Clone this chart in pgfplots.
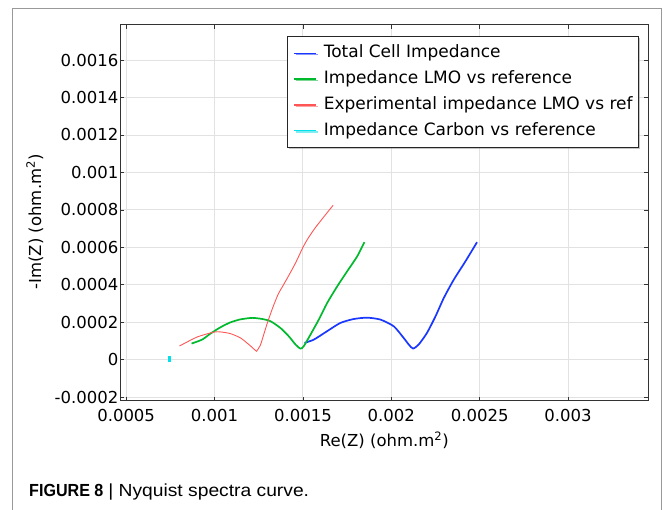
\documentclass[border=0pt]{standalone}
\usepackage{pgfplots}
\pgfplotsset{compat=1.18}
\usepackage{fontspec}
\setmainfont{DejaVu Sans}
\newfontfamily\capfont{Liberation Sans}
\usetikzlibrary{shadows}

\definecolor{cblue}{RGB}{25,55,255}
\definecolor{cgreen}{RGB}{0,185,45}
\definecolor{cred}{RGB}{255,85,85}
\definecolor{ccyan}{RGB}{0,225,235}
\definecolor{gridc}{RGB}{226,226,226}

\begin{document}
\begin{tikzpicture}
\path[use as bounding box] (0,0) rectangle (663bp,510bp);
\draw[black!40, line width=1.2bp] (12.7bp,0) -- (12.7bp,501.7bp) -- (661.7bp,501.7bp) -- (661.7bp,0);
\begin{axis}[
  at={(120.3bp,109.3bp)}, anchor=south west,
  scale only axis, width=528bp, height=375.7bp,
  xmin=0.000467, xmax=0.003454, ymin=-0.000218, ymax=0.001787,
  xtick={0.0005,0.001,0.0015,0.002,0.0025,0.003},
  xticklabels={0.0005,0.001,0.0015,0.002,0.0025,0.003},
  ytick={-0.0002,0,0.0002,0.0004,0.0006,0.0008,0.001,0.0012,0.0014,0.0016},
  yticklabels={-0.0002,0,0.0002,0.0004,0.0006,0.0008,0.001,0.0012,0.0014,0.0016},
  scaled ticks=false,
  grid=major, major grid style={gridc, line width=0.9bp},
  axis line style={black!80, line width=1bp},
  tick style={black!80, line width=0.8bp},
  tick align=inside, major tick length=4bp,
  ticklabel style={font=\fontsize{16.5bp}{19bp}\selectfont},
  xticklabel style={yshift=-5bp},
  yticklabel style={xshift=1.5bp},
  xlabel={Re(Z) (ohm.m\textsuperscript{2})},
  ylabel={-Im(Z) (ohm.m\textsuperscript{2})},
  label style={font=\fontsize{16.5bp}{19bp}\selectfont},
  xlabel style={at={(axis description cs:0.5,-0.1046)}, anchor=center},
  ylabel style={at={(axis description cs:-0.162,0.476)}, anchor=center},
  legend style={at={(0.9824,0.9707)}, anchor=north east,
    draw=black!85, line width=0.9bp, fill=white,
    drop shadow={shadow xshift=1.3bp, shadow yshift=-1.3bp, fill=black!45},
    font=\fontsize{17bp}{20bp}\selectfont,
    cells={anchor=west},
    nodes={inner sep=0bp, text height=13bp, text depth=4bp},
    row sep=8.8bp, inner xsep=6bp, inner ysep=8.3bp,
    /tikz/every odd column/.append style={column sep=6.7bp}},
  legend image code/.code={\draw[#1, line width=1.4bp] (0bp,0bp) -- (22bp,0bp);},
]
\addplot[cblue, line width=1.7bp, smooth, tension=0.4] coordinates {
(0.001509,0.0000905) (0.001562,0.000108) (0.001637,0.000153) (0.001712,0.000197)
(0.001788,0.000218) (0.001863,0.000225) (0.001938,0.000215) (0.002014,0.000179)
(0.00207,0.000117) (0.002099,0.0000816) (0.002123,0.0000603) (0.002155,0.0000816)
(0.002202,0.000144) (0.00225,0.000232) (0.002297,0.00033) (0.002353,0.000427)
(0.002419,0.000525) (0.002485,0.000628)
};
\addlegendentry{Total Cell Impedance}
\addplot[cgreen, line width=1.7bp, smooth, tension=0.4] coordinates {
(0.00087,0.000087) (0.00093,0.000108) (0.000977,0.00014) (0.001034,0.000174)
(0.00109,0.0002) (0.001147,0.000216) (0.001213,0.000224) (0.00127,0.000218)
(0.001317,0.000206) (0.001373,0.00017) (0.00142,0.000126) (0.001458,0.000082)
(0.001486,0.00006) (0.001505,0.000073) (0.001543,0.000135) (0.00159,0.000215)
(0.001637,0.000303) (0.001694,0.000392) (0.00175,0.000472) (0.001807,0.000552)
(0.001848,0.000628)
};
\addlegendentry{Impedance LMO vs reference}
\addplot[cred, line width=0.9bp, smooth, tension=0.4] coordinates {
(0.000802,0.000074) (0.000902,0.000122) (0.000996,0.000148) (0.001034,0.000149)
(0.00109,0.00014) (0.001147,0.000117) (0.001194,0.000082) (0.001232,0.00005)
(0.001238,0.000046) (0.00126,0.00008) (0.00128,0.00014) (0.0013,0.0002)
(0.00133,0.00028) (0.00136,0.00035) (0.00139,0.0004) (0.00142,0.00045)
(0.00146,0.00052) (0.0015,0.0006) (0.00153,0.00065) (0.00157,0.000705)
(0.00162,0.000765) (0.001671,0.000825)
};
\addlegendentry{Experimental impedance LMO vs ref}
\addplot[ccyan, line width=2.2bp] coordinates {
(0.000745,-0.000014) (0.000745,0.000021)
};
\addlegendentry{Impedance Carbon vs reference}
\end{axis}
\node[anchor=base west, inner sep=0pt, font=\capfont\fontsize{17.5bp}{20bp}\selectfont] at (29bp,14bp)
  {\scalebox{0.92}[1]{\textbf{FIGURE 8}} \scalebox{1.1}[1]{| Nyquist spectra curve.}};
\end{tikzpicture}
\end{document}
